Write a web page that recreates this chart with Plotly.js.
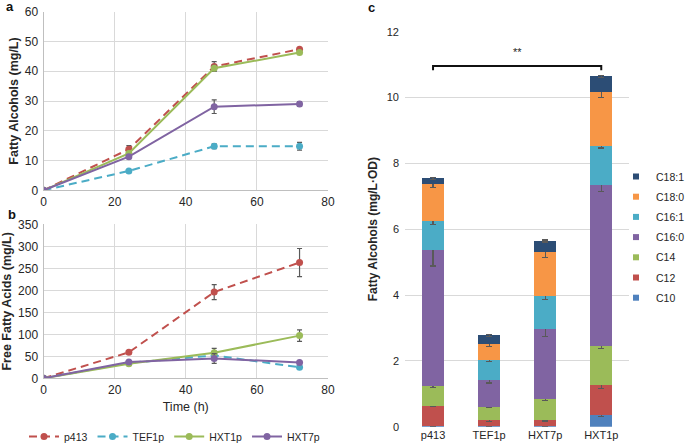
<!DOCTYPE html>
<html>
<head>
<meta charset="utf-8">
<script src="https://cdn.plot.ly/plotly-3.0.1.min.js"></script>
<style>html,body{margin:0;padding:0;background:#fff;}#chart{width:685px;height:445px;}</style>
</head>
<body>
<div id="chart"></div>
<script>
// ---------- Data ----------
const timeH = [0, 24, 48, 72];
const strainNames = ['p413', 'TEF1p', 'HXT1p', 'HXT7p'];

// Panel a: fatty alcohols (mg/L)
const faP413 = [0, 13.8, 41.6, 47.4];
const faP413Err = [0, 1.2, 1.6, 0.5];
const faTEF1p = [0, 6.5, 14.8, 14.8];
const faTEF1pErr = [0, 0.4, 0.8, 1.3];
const faHXT1p = [0, 12.4, 41.0, 46.3];
const faHXT1pErr = [0, 0.5, 1.0, 0.6];
const faHXT7p = [0, 11.3, 28.1, 29.0];
const faHXT7pErr = [0, 0.5, 2.3, 0.8];

// Panel b: free fatty acids (mg/L)
const ffaP413 = [0, 59, 196, 263];
const ffaP413Err = [0, 3, 17, 32];
const ffaTEF1p = [0, 35, 52, 25];
const ffaTEF1pErr = [0, 2, 8, 3];
const ffaHXT1p = [0, 33, 58, 97];
const ffaHXT1pErr = [0, 3, 10, 13];
const ffaHXT7p = [0, 37, 45, 36];
const ffaHXT7pErr = [0, 3, 11, 3];

// Panel c: fatty alcohol composition (mg/L·OD)
const promoters = ['p413', 'TEF1p', 'HXT7p', 'HXT1p'];
const chainNames = ['C10', 'C12', 'C14', 'C16:0', 'C16:1', 'C18:0', 'C18:1'];
const c10 = [0.03, 0.01, 0.01, 0.35];
const c10Err = [0.01, 0.0, 0.0, 0.05];
const c12 = [0.61, 0.19, 0.19, 0.93];
const c12Err = [0.02, 0.04, 0.03, 0.13];
const c14 = [0.59, 0.40, 0.64, 1.17];
const c14Err = [0.03, 0.01, 0.04, 0.08];
const c160 = [4.15, 0.82, 2.14, 4.88];
const c160Err = [0.50, 0.09, 0.24, 0.19];
const c161 = [0.86, 0.60, 0.99, 1.21];
const c161Err = [0.10, 0.04, 0.11, 0.07];
const c180 = [1.13, 0.48, 1.34, 1.63];
const c180Err = [0.10, 0.06, 0.17, 0.17];
const c181 = [0.18, 0.28, 0.33, 0.47];
const c181Err = [0.03, 0.03, 0.03, 0.02];
const significance = '**';

// ---------- Styles ----------
const W = 685, H = 445;
const lineColors = ['#C0504D', '#4BACC6', '#9BBB59', '#8064A2'];
const lineDash = ['8px,5px', '8px,5px', 'solid', 'solid'];
const chainColors = ['#4F81BD', '#C0504D', '#9BBB59', '#8064A2', '#4BACC6', '#F79646', '#2C4D75'];
const errColor = '#595959';
const fontFam = '"Liberation Sans", Arial, sans-serif';
const txt = '#262626';

const faSeries = [[faP413, faP413Err], [faTEF1p, faTEF1pErr], [faHXT1p, faHXT1pErr], [faHXT7p, faHXT7pErr]];
const ffaSeries = [[ffaP413, ffaP413Err], [ffaTEF1p, ffaTEF1pErr], [ffaHXT1p, ffaHXT1pErr], [ffaHXT7p, ffaHXT7pErr]];
const chainSeries = [[c10, c10Err], [c12, c12Err], [c14, c14Err], [c160, c160Err], [c161, c161Err], [c180, c180Err], [c181, c181Err]];

const traces = [];
function lineTrace(s, i, xa, ya, showLeg) {
  return {
    type: 'scatter', mode: 'lines+markers', x: timeH, y: s[0],
    xaxis: xa, yaxis: ya, name: strainNames[i], legendgroup: strainNames[i],
    showlegend: showLeg, legend: 'legend',
    line: {color: lineColors[i], width: 2, dash: lineDash[i]},
    marker: {color: lineColors[i], size: 7},
    error_y: {type: 'data', array: s[1], visible: true, color: errColor, thickness: 1.2, width: 2.5},
    hoverinfo: 'x+y+name'
  };
}
faSeries.forEach((s, i) => traces.push(lineTrace(s, i, 'x', 'y', false)));
ffaSeries.forEach((s, i) => traces.push(lineTrace(s, i, 'x2', 'y2', true)));

chainSeries.forEach((s, i) => {
  traces.push({
    type: 'bar', x: promoters, y: s[0], xaxis: 'x3', yaxis: 'y3',
    name: chainNames[i], showlegend: false, legendgroup: chainNames[i],
    marker: {color: chainColors[i], line: {width: 0}},
    error_y: {type: 'data', array: s[1], visible: true, color: errColor, thickness: 1.2, width: 3}
  });
});
// legend entries for panel c (small squares, top entry = top of stack)
for (let i = chainSeries.length - 1; i >= 0; i--) {
  traces.push({
    type: 'scatter', mode: 'markers', x: [null], y: [null], xaxis: 'x3', yaxis: 'y3',
    name: chainNames[i], legend: 'legend2', legendgroup: chainNames[i],
    marker: {symbol: 'square', size: 6, color: chainColors[i]}, hoverinfo: 'skip'
  });
}

// significance bracket between first and last promoter
const totals = promoters.map((_, k) => chainSeries.reduce((a, s) => a + s[0][k], 0));
const bracketY = Math.max(...totals) + 0.32;
traces.push({
  type: 'scatter', mode: 'lines', xaxis: 'x3', yaxis: 'y3', showlegend: false, hoverinfo: 'skip',
  x: [promoters[0], promoters[0], promoters[3], promoters[3]],
  y: [bracketY - 0.13, bracketY, bracketY, bracketY - 0.13],
  line: {color: '#111', width: 2}
});

const gridC = '#D9D9D9';
const axLine = '#BFBFBF';
const tickF = {family: fontFam, size: 12, color: txt};
const titleF = {family: fontFam, size: 12.5, color: txt, weight: 'bold'};

const layout = {
  width: W, height: H,
  margin: {l: 0, r: 0, t: 0, b: 0, autoexpand: false},
  paper_bgcolor: '#fff', plot_bgcolor: '#fff',
  font: {family: fontFam, size: 12, color: txt},
  barmode: 'stack', bargap: 0.6,
  xaxis: {
    domain: [43.5 / W, 328 / W], anchor: 'y', range: [0, 80], dtick: 20,
    showgrid: true, gridcolor: gridC, zeroline: false, showline: true, linecolor: axLine,
    tickfont: tickF, ticks: ''
  },
  yaxis: {
    domain: [(H - 190.3) / H, (H - 11.7) / H], anchor: 'x', range: [0, 60], dtick: 10,
    showgrid: true, gridcolor: gridC, zeroline: false, showline: true, linecolor: axLine,
    tickfont: tickF, ticks: '', ticklabelstandoff: 2,
    title: {text: 'Fatty Alcohols (mg/L)', font: titleF, standoff: 3}
  },
  xaxis2: {
    domain: [43.5 / W, 328 / W], anchor: 'y2', range: [0, 80], dtick: 20,
    showgrid: true, gridcolor: gridC, zeroline: false, showline: true, linecolor: axLine,
    tickfont: tickF, ticks: '',
    title: {text: 'Time (h)', font: {family: fontFam, size: 12.5, color: txt}, standoff: 6}
  },
  yaxis2: {
    domain: [(H - 378.3) / H, (H - 224.3) / H], anchor: 'x2', range: [0, 350], dtick: 50,
    showgrid: true, gridcolor: gridC, zeroline: false, showline: true, linecolor: axLine,
    tickfont: tickF, ticks: '', ticklabelstandoff: 2,
    title: {text: 'Free Fatty Acids (mg/L)', font: titleF, standoff: 6}
  },
  xaxis3: {
    domain: [405 / W, 629.3 / W], anchor: 'y3', type: 'category',
    showgrid: false, zeroline: false, showline: false,
    tickfont: {family: fontFam, size: 11, color: txt}, ticks: ''
  },
  yaxis3: {
    domain: [(H - 426.7) / H, (H - 31.7) / H], anchor: 'x3', range: [0, 12], dtick: 2,
    showgrid: true, gridcolor: gridC, zeroline: false, showline: false,
    tickfont: {family: fontFam, size: 11, color: txt}, ticks: '', ticklabelstandoff: 5,
    title: {text: 'Fatty Alcohols (mg/L·OD)', font: {family: fontFam, size: 12, color: txt, weight: 'bold'}, standoff: 6}
  },
  legend: {
    orientation: 'h', x: 24 / W, xanchor: 'left', y: (H - 436.5) / H, yanchor: 'middle',
    font: {family: fontFam, size: 10.5, color: txt}, bgcolor: 'rgba(0,0,0,0)', itemwidth: 30,
    traceorder: 'normal'
  },
  legend2: {
    orientation: 'v', x: 616 / W, xanchor: 'left', y: (H - 162) / H, yanchor: 'top',
    font: {family: fontFam, size: 10.5, color: txt}, bgcolor: 'rgba(0,0,0,0)',
    traceorder: 'grouped', tracegroupgap: 1.2, itemwidth: 30
  },
  annotations: [
    {text: '<b>a</b>', xref: 'paper', yref: 'paper', x: 4 / W, y: (H - 7) / H, showarrow: false, xanchor: 'left', yanchor: 'middle', font: {family: fontFam, size: 13, color: '#111'}},
    {text: '<b>b</b>', xref: 'paper', yref: 'paper', x: 6 / W, y: (H - 214) / H, showarrow: false, xanchor: 'left', yanchor: 'middle', font: {family: fontFam, size: 13, color: '#111'}},
    {text: '<b>c</b>', xref: 'paper', yref: 'paper', x: 366 / W, y: (H - 8) / H, showarrow: false, xanchor: 'left', yanchor: 'middle', font: {family: fontFam, size: 13, color: '#111'}},
    {text: significance, xref: 'x3', yref: 'y3', x: 1.5, y: bracketY + 0.42, showarrow: false, font: {family: fontFam, size: 11, color: txt}}
  ]
};

Plotly.newPlot('chart', traces, layout, {displayModeBar: false, staticPlot: true});
</script>
</body>
</html>
